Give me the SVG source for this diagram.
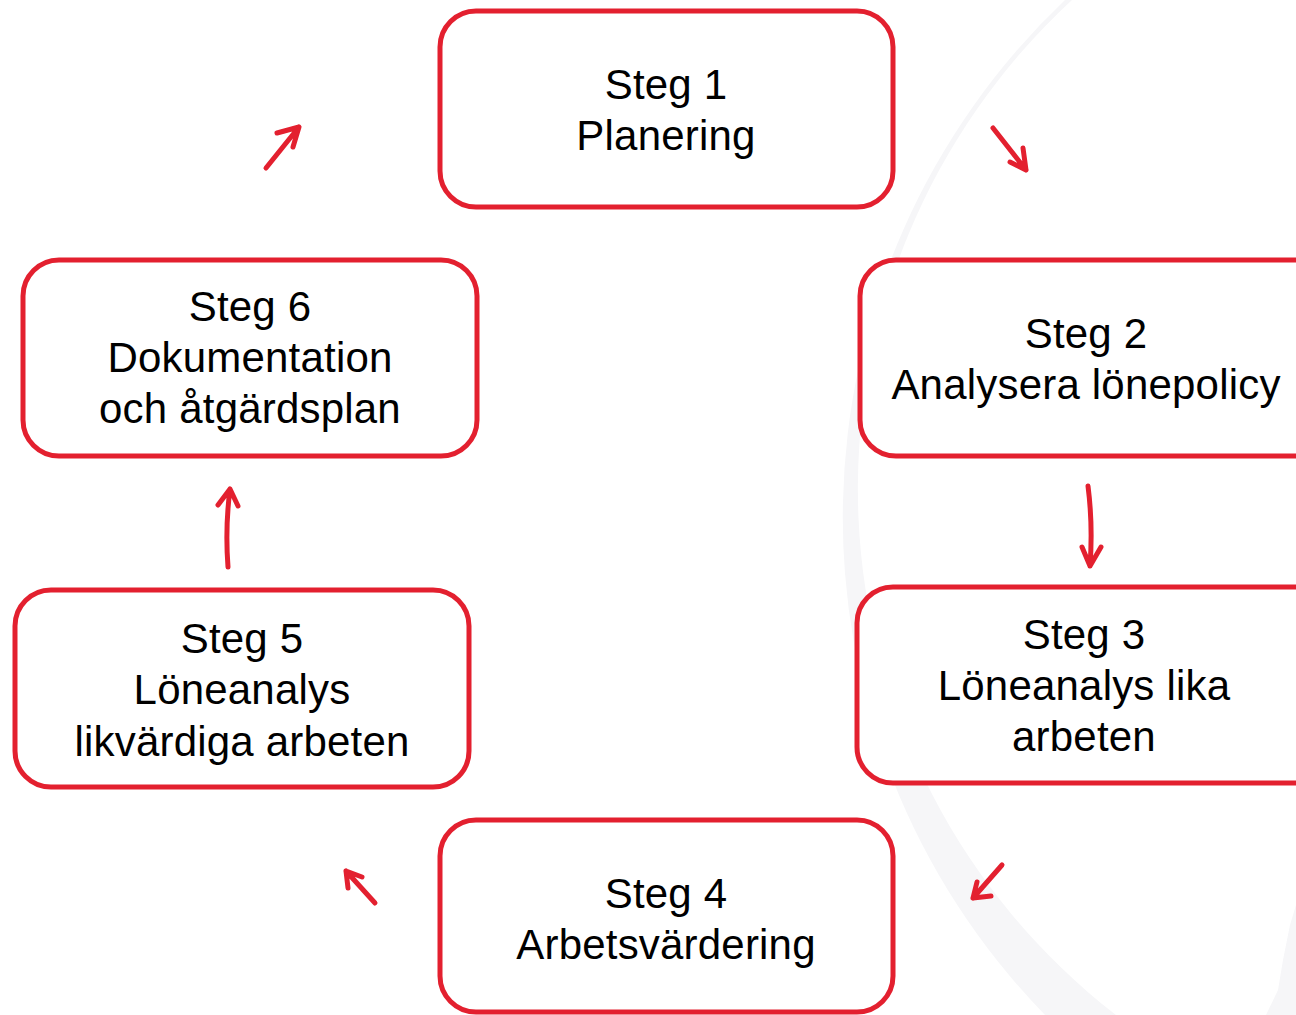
<svg xmlns="http://www.w3.org/2000/svg" width="1296" height="1015" viewBox="0 0 1296 1015">
<style>
.box{fill:#ffffff;stroke:#e3202f;stroke-width:5}
.lbl{font-family:"Liberation Sans",Arial,sans-serif;font-size:42px;letter-spacing:0.2px;fill:#000000;text-anchor:middle}
.arr{fill:none;stroke:#e3202f;stroke-width:5;stroke-linecap:round;stroke-linejoin:round}
.bg{fill:#f6f6f8}
</style>
<rect width="1296" height="1015" fill="#ffffff"/>
<g id="background">
<path class="bg" d="M1065,0 A713.4,713.4 0 0 0 1045,1015 L1116,1015 A665.2,665.2 0 0 1 1072,0 Z"/>
<path class="bg" d="M1296,905 L1290,925 L1283,960 L1278,990 L1266,1015 L1296,1015 Z"/>
</g>
<g id="connectors">
<path class="arr" d="M266,168 L299,127 M277,133 L299,127 L293,147"/>
<path class="arr" d="M993,128 L1026,170 M1023,148 L1026,170 L1010,162"/>
<path class="arr" d="M1088,486 Q1093,525 1090,566 M1082,547 L1090,566 L1101,547"/>
<path class="arr" d="M1002,865 L973,898 M977,882 L973,898 L991,896"/>
<path class="arr" d="M375,903 L346,871 M348,888 L346,871 L362,877"/>
<path class="arr" d="M228,567 Q225,528 230,489 M218,505 L230,489 L238,506"/>
</g>
<g id="step1">
<rect class="box" x="440" y="11" width="453" height="196" rx="36"/>
<text class="lbl" x="666" y="99">Steg 1</text>
<text class="lbl" x="666" y="150">Planering</text>
</g>
<g id="step2">
<rect class="box" x="860" y="260" width="480" height="196" rx="36"/>
<text class="lbl" x="1086" y="348">Steg 2</text>
<text class="lbl" x="1086" y="399">Analysera lönepolicy</text>
</g>
<g id="step3">
<rect class="box" x="857" y="587" width="480" height="196" rx="36"/>
<text class="lbl" x="1084" y="649">Steg 3</text>
<text class="lbl" x="1084" y="700">Löneanalys lika</text>
<text class="lbl" x="1084" y="751">arbeten</text>
</g>
<g id="step4">
<rect class="box" x="440" y="820" width="453" height="192" rx="36"/>
<text class="lbl" x="666" y="908">Steg 4</text>
<text class="lbl" x="666" y="959">Arbetsvärdering</text>
</g>
<g id="step5">
<rect class="box" x="15" y="590" width="454" height="197" rx="36"/>
<text class="lbl" x="242" y="653">Steg 5</text>
<text class="lbl" x="242" y="704">Löneanalys</text>
<text class="lbl" x="242" y="756">likvärdiga arbeten</text>
</g>
<g id="step6">
<rect class="box" x="23" y="260" width="454" height="196" rx="36"/>
<text class="lbl" x="250" y="321">Steg 6</text>
<text class="lbl" x="250" y="372">Dokumentation</text>
<text class="lbl" x="250" y="423">och åtgärdsplan</text>
</g>
</svg>
